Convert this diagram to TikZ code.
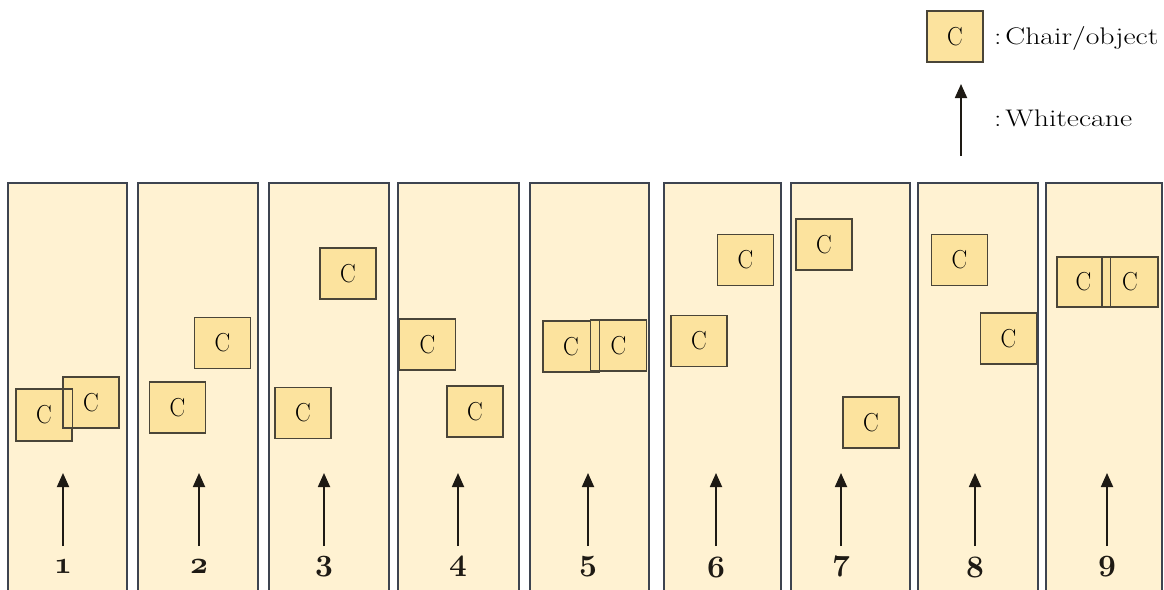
\documentclass[tikz,border=0pt]{standalone}
\usetikzlibrary{arrows.meta}
\definecolor{lanefill}{HTML}{FFF2D2}
\definecolor{lanedraw}{HTML}{3E4450}
\definecolor{chairfill}{HTML}{FCE39E}
\definecolor{chairdraw}{HTML}{4A4538}
\definecolor{canecol}{HTML}{1E1A14}
% bold old-style figures for the lane numbers
\newcommand{\lanefig}[1]{\scalebox{1.25}{\fontencoding{OML}\fontfamily{cmm}\fontseries{b}\fontshape{it}\selectfont #1}}
\newcommand{\chairmark}{\scalebox{0.9}[1]{C}}
\begin{document}
\begin{tikzpicture}[x=1pt,y=-1pt,
  lane/.style={fill=lanefill,draw=lanedraw,line width=1.3pt},
  chair/.style={fill=chairfill,draw=chairdraw,line width=1.2pt,
    minimum width=56pt,minimum height=51pt,inner sep=0pt,
    font=\fontsize{26}{26}\selectfont},
  chairedge/.style={draw=chairdraw,line width=1.2pt},
  cane/.style={draw=canecol,line width=1.8pt,-{Triangle[length=14pt,width=12pt]}},
  lanenum/.style={text=canecol,font=\fontsize{24.88}{25}\selectfont,inner sep=0pt},
  legendtxt/.style={anchor=west,inner sep=0pt,font=\fontsize{24}{24}\selectfont}]
\useasboundingbox (0,0) rectangle (1164,589);
\fill[white] (0,0) rectangle (1164,589);

% lanes (open at the bottom edge)
\foreach \i/\l/\r in {1/8/127,2/138/258,3/269/389,4/398/519,5/530/649,
                      6/664/781,7/791/910,8/918/1038,9/1046/1162}{
  \path[lane] (\l,600) -- (\l,183) -- (\r,183) -- (\r,600);
}
\foreach \i/\x in {1/63,2/199,3/324,4/458,5/588,6/716,7/841,8/975,9/1107}{
  \node[lanenum] (num\i) at (\x,567) {\lanefig{\i}};
}

% white canes
\foreach \i/\x in {1/63,2/199,3/324,4/458,5/588,6/716,7/841,8/975,9/1107}{
  \coordinate (caneS\i) at (\x,546);
  \coordinate (caneE\i) at (\x,473);
  \draw[cane] (caneS\i) -- (caneE\i);
}

% chairs / objects
\node[chair] (c1a) at (44,415) {\chairmark};
\node[chair] (c1b) at (91,402.5) {\chairmark};
\draw[chairedge] (c1a.north west) rectangle (c1a.south east);

\node[chair] (c2a) at (222.5,343) {\chairmark};
\node[chair] (c2b) at (177.5,407.5) {\chairmark};

\node[chair] (c3a) at (348,273.5) {\chairmark};
\node[chair] (c3b) at (303,413) {\chairmark};

\node[chair] (c4a) at (427.5,344.5) {\chairmark};
\node[chair] (c4b) at (475,411.5) {\chairmark};

\node[chair] (c5a) at (571,346.5) {\chairmark};
\node[chair] (c5b) at (618.5,345.5) {\chairmark};
\draw[chairedge] (c5a.north west) rectangle (c5a.south east);

\node[chair] (c6a) at (745.5,260) {\chairmark};
\node[chair] (c6b) at (699,341) {\chairmark};

\node[chair] (c7a) at (824,244.5) {\chairmark};
\node[chair] (c7b) at (871,422.5) {\chairmark};

\node[chair] (c8a) at (959.5,260) {\chairmark};
\node[chair] (c8b) at (1008.5,338.5) {\chairmark};

\node[chair,minimum width=53pt,minimum height=50pt] (c9a) at (1083.5,282) {\chairmark};
\node[chair,minimum height=50pt] (c9b) at (1130,282) {\chairmark};
\draw[chairedge] (c9a.north west) rectangle (c9a.south east);

% legend
\node[chair] (keychair) at (955,36.5) {\chairmark};
\node[legendtxt] (keychairtxt) at (994,38) {\scalebox{1.24}[1]{:\kern3pt Chair/object}};
\coordinate (keycaneS) at (961,156);
\coordinate (keycaneE) at (961,84);
\draw[cane] (keycaneS) -- (keycaneE);
\node[legendtxt] (keycanetxt) at (994,118) {\scalebox{1.24}[1]{:\kern3pt Whitecane}};
\end{tikzpicture}
\end{document}
